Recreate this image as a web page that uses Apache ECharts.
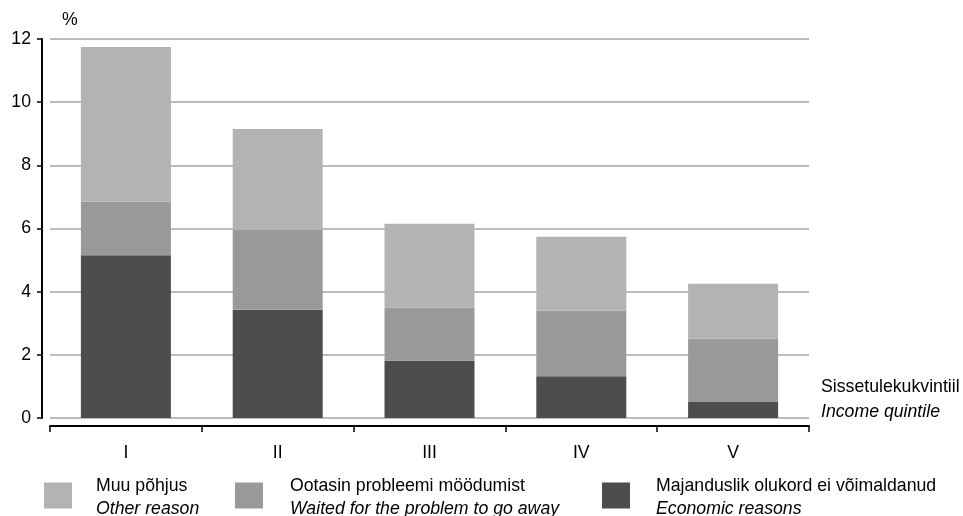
<!DOCTYPE html>
<html>
<head>
<meta charset="utf-8">
<script src="https://cdn.jsdelivr.net/npm/echarts@6/dist/echarts.min.js"></script>
<style>
html,body{margin:0;padding:0;background:#fff;}
#c{width:963px;height:516px;}
</style>
</head>
<body>
<div id="c"></div>
<script>
var categories = ['I', 'II', 'III', 'IV', 'V'];
var economicReasons = [5.15, 3.43, 1.81, 1.32, 0.52];
var waitedToGoAway = [1.70, 2.53, 1.69, 2.08, 1.99];
var otherReason = [4.90, 3.19, 2.65, 2.34, 1.74];
var yTicks = [0, 2, 4, 6, 8, 10, 12];
var namesEt = ['Muu põhjus', 'Ootasin probleemi möödumist', 'Majanduslik olukord ei võimaldanud'];
var namesEn = ['Other reason', 'Waited for the problem to go away', 'Economic reasons'];
var axisNameEt = 'Sissetulekukvintiil';
var axisNameEn = 'Income quintile';
var unitLabel = '%';

var FONT = 'Liberation Sans, Arial, sans-serif';
var FS = 17.7;
var colors = ['#b3b3b3', '#999999', '#4d4d4d'];

function legendFor(i, left, pad) {
  return {
    data: [namesEt[i]],
    left: left,
    top: 477,
    padding: 0,
    itemWidth: 28,
    itemHeight: 26,
    selectedMode: false,
    icon: 'rect',
    formatter: function (n) { return '{a|' + n + '}\n{b|' + namesEn[namesEt.indexOf(n)] + '}'; },
    textStyle: {
      padding: [4, 0, 0, pad],
      rich: {
        a: { fontFamily: FONT, fontSize: FS, color: '#000', lineHeight: 23 },
        b: { fontFamily: FONT, fontSize: FS, color: '#000', lineHeight: 23, fontStyle: 'italic' }
      }
    }
  };
}

var chart = echarts.init(document.getElementById('c'), null, { renderer: 'canvas' });
chart.setOption({
  animation: false,
  backgroundColor: '#fff',
  grid: { left: 50, right: 154, top: 39, bottom: 98, containLabel: false },
  xAxis: {
    type: 'category',
    data: categories,
    offset: 8,
    axisLine: { show: true, onZero: false, lineStyle: { color: '#000', width: 2 } },
    axisTick: { show: true, length: 6, alignWithLabel: false, lineStyle: { color: '#000', width: 1.5 } },
    axisLabel: { fontFamily: FONT, fontSize: FS, color: '#000', margin: 18 },
    splitLine: { show: false }
  },
  yAxis: {
    type: 'value',
    min: yTicks[0],
    max: yTicks[yTicks.length - 1],
    interval: yTicks[1] - yTicks[0],
    offset: 8,
    axisLine: { show: true, onZero: false, lineStyle: { color: '#000', width: 2 } },
    axisTick: { show: true, length: 5, lineStyle: { color: '#000', width: 1.5 } },
    axisLabel: { fontFamily: FONT, fontSize: FS, color: '#000', margin: 11 },
    splitLine: { show: true, lineStyle: { color: '#a6a6a6', width: 1.5 } }
  },
  legend: [legendFor(0, 44, 19), legendFor(1, 235, 22), legendFor(2, 602, 21)],
  graphic: [
    { type: 'text', left: 62, top: 11, style: { text: unitLabel, fontFamily: FONT, fontSize: FS, fill: '#000' } },
    { type: 'text', left: 821, top: 378, style: { text: axisNameEt, fontFamily: FONT, fontSize: FS, fill: '#000' } },
    { type: 'text', left: 821, top: 403, style: { text: axisNameEn, fontFamily: FONT, fontSize: FS, fill: '#000', fontStyle: 'italic' } }
  ],
  series: [
    { name: namesEt[2], type: 'bar', stack: 'a', data: economicReasons, barWidth: 90, itemStyle: { color: colors[2] } },
    { name: namesEt[1], type: 'bar', stack: 'a', data: waitedToGoAway, barWidth: 90, itemStyle: { color: colors[1] } },
    { name: namesEt[0], type: 'bar', stack: 'a', data: otherReason, barWidth: 90, itemStyle: { color: colors[0] } }
  ]
});
</script>
</body>
</html>
